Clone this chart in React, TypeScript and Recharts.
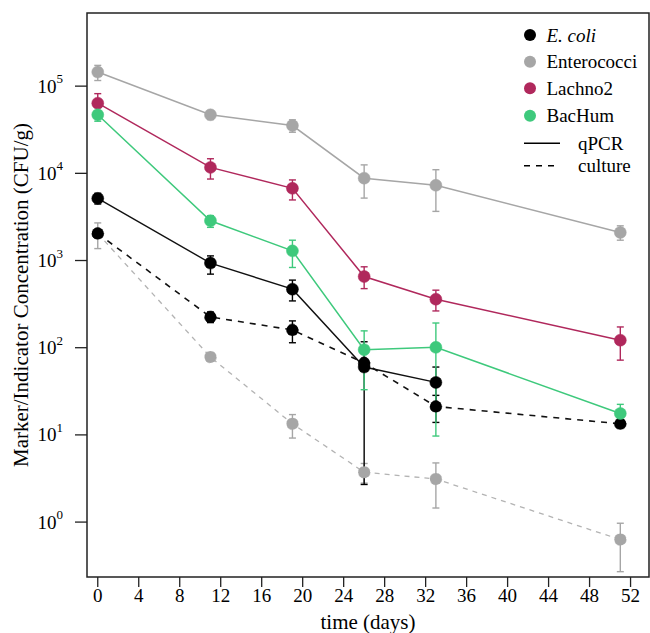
import React from "react";
import { ComposedChart, Line, XAxis, YAxis, ErrorBar, ReferenceArea, Legend } from "recharts";

const FONT = "'Liberation Serif', 'Times New Roman', serif";

const xTicks = [0, 4, 8, 12, 16, 20, 24, 28, 32, 36, 40, 44, 48, 52];
const yTicks = [1, 10, 100, 1000, 10000, 100000];

const daysAll = [0, 11, 19, 26, 33, 51];
const daysEcoliQ = [0, 11, 19, 26, 33];

const enteroQ = [145000, 46900, 35300, 8800, 7300, 2100];
const enteroQLow = [116000, 41400, 29600, 5200, 3660, 1710];
const enteroQHigh = [173000, 52500, 41100, 12500, 11000, 2500];

const lachno = [63800, 11700, 6730, 655, 360, 122];
const lachnoLow = [44900, 8600, 4950, 476, 264, 72];
const lachnoHigh = [82000, 14700, 8400, 847, 457, 173];

const bacHum = [46900, 2860, 1290, 95, 101, 17.6];
const bacHumLow = [39600, 2400, 832, 33, 9.7, 12.6];
const bacHumHigh = [56500, 3270, 1710, 156, 192, 22.4];

const ecoliQ = [5160, 934, 469, 60, 40];
const ecoliQLow = [4450, 698, 344, 2.7, 20];
const ecoliQHigh = [5900, 1130, 596, 117, 60];

const ecoliC = [2040, 225, 160, 67, 21.2, 13.4];
const ecoliCLow = [1950, 194, 114, 62, 13.9, 12.9];
const ecoliCHigh = [2130, 257, 203, 72, 28.4, 13.9];

const enteroC = [2040, 78, 13.4, 3.73, 3.12, 0.63];
const enteroCLow = [1370, 74, 9.2, 2.8, 1.45, 0.27];
const enteroCHigh = [2700, 83, 17.1, 4.7, 4.77, 0.97];

const build = (days: number[], v: number[], lo: number[], hi: number[]) =>
  days.map((d, i) => ({ day: d, v: v[i], err: [v[i] - lo[i], hi[i] - v[i]] }));

const C_BLACK = "#000000";
const C_GRAY = "#a6a6a6";
const C_GRAY_C = "#b3b3b3";
const C_LACHNO = "#b0285c";
const C_GREEN = "#3ec97c";

const YTick = (props: any) => {
  const { x, y, payload } = props;
  const exp = Math.round(Math.log10(payload.value));
  return (
    <text x={x} y={y} textAnchor="end" fontFamily={FONT} fontSize={19} fill="#000" dominantBaseline="central">
      10<tspan dy={-8} fontSize={13}>{exp}</tspan>
    </text>
  );
};

const LegendContent = () => {
  const rows = [
    { label: "E. coli", color: C_BLACK, italic: true, y: 35 },
    { label: "Enterococci", color: C_GRAY, italic: false, y: 61.7 },
    { label: "Lachno2", color: C_LACHNO, italic: false, y: 88.3 },
    { label: "BacHum", color: C_GREEN, italic: false, y: 115.7 },
  ];
  return (
    <svg width={650} height={633} style={{ position: "absolute", left: 0, top: 0 }}>
      {rows.map((r) => (
        <g key={r.label}>
          <circle cx={530} cy={r.y} r={6} fill={r.color} />
          <text x={546.5} y={r.y} dominantBaseline="central" fontFamily={FONT} fontSize={19} fontStyle={r.italic ? "italic" : "normal"} fill="#000">
            {r.label}
          </text>
        </g>
      ))}
      <line x1={524} x2={560} y1={143.3} y2={143.3} stroke="#000" strokeWidth={1.5} />
      <text x={578} y={143.3} dominantBaseline="central" fontFamily={FONT} fontSize={19} fill="#000">qPCR</text>
      <line x1={524} x2={556} y1={165.7} y2={165.7} stroke="#000" strokeWidth={1.5} strokeDasharray="6 6" />
      <text x={578} y={165.7} dominantBaseline="central" fontFamily={FONT} fontSize={19} fill="#000">culture</text>
    </svg>
  );
};

const X_DOMAIN: [number, number] = [-1.05, 53.8];
const Y_DOMAIN: [number, number] = [0.2345, 690000];

export default function App() {
  const dEnteroC = build(daysAll, enteroC, enteroCLow, enteroCHigh);
  const dEnteroQ = build(daysAll, enteroQ, enteroQLow, enteroQHigh);
  const dEcoliC = build(daysAll, ecoliC, ecoliCLow, ecoliCHigh);
  const dEcoliQ = build(daysEcoliQ, ecoliQ, ecoliQLow, ecoliQHigh);
  const dLachno = build(daysAll, lachno, lachnoLow, lachnoHigh);
  const dBac = build(daysAll, bacHum, bacHumLow, bacHumHigh);

  const series = [
    { key: "enteroC", data: dEnteroC, color: C_GRAY, line: C_GRAY_C, dash: "5 5", w: 1.3 },
    { key: "enteroQ", data: dEnteroQ, color: C_GRAY, line: C_GRAY, dash: undefined, w: 1.5 },
    { key: "ecoliC", data: dEcoliC, color: C_BLACK, line: "#111", dash: "6 6", w: 1.6 },
    { key: "ecoliQ", data: dEcoliQ, color: C_BLACK, line: "#111", dash: undefined, w: 1.4 },
    { key: "lachno", data: dLachno, color: C_LACHNO, line: C_LACHNO, dash: undefined, w: 1.5 },
    { key: "bac", data: dBac, color: C_GREEN, line: C_GREEN, dash: undefined, w: 1.5 },
  ];

  return (
    <div style={{ position: "absolute", left: 0, top: 0, width: 650, height: 633, background: "#fff" }}>
      <ComposedChart width={650} height={633} margin={{ top: 13, right: 1, bottom: 0, left: 0 }}>
        <XAxis
          dataKey="day"
          type="number"
          domain={X_DOMAIN}
          allowDataOverflow
          ticks={xTicks}
          interval={0}
          height={56}
          tickSize={10}
          tickMargin={2}
          axisLine={false}
          tickLine={{ stroke: "#222", strokeWidth: 1.3 }}
          tick={{ fill: "#000", fontSize: 19, fontFamily: FONT }}
        />
        <YAxis
          scale="log"
          domain={Y_DOMAIN}
          allowDataOverflow
          ticks={yTicks}
          interval={0}
          width={87}
          tickSize={12}
          tickMargin={12}
          axisLine={false}
          tickLine={{ stroke: "#222", strokeWidth: 1.3 }}
          tick={<YTick />}
        />
        <ReferenceArea
          x1={X_DOMAIN[0]}
          x2={X_DOMAIN[1]}
          y1={Y_DOMAIN[0]}
          y2={Y_DOMAIN[1]}
          fill="none"
          stroke="#222"
          strokeWidth={1.5}
          ifOverflow="visible"
        />
        {series.map((s) => (
          <Line
            key={s.key}
            data={s.data}
            dataKey="v"
            type="linear"
            stroke={s.line}
            strokeWidth={s.w}
            strokeDasharray={s.dash}
            dot={{ r: 6, fill: s.color, stroke: s.color, strokeWidth: 0.5 }}
            activeDot={false}
            isAnimationActive={false}
          >
            <ErrorBar dataKey="err" direction="y" width={3.5} stroke={s.color} strokeWidth={1.4} isAnimationActive={false} />
          </Line>
        ))}
        <Legend layout="horizontal" verticalAlign="middle" align="center" content={<LegendContent />} wrapperStyle={{ position: "absolute", left: 0, top: 0, width: 650, height: 633, pointerEvents: "none" }} />
      </ComposedChart>
      <svg width={650} height={633} style={{ position: "absolute", left: 0, top: 0, pointerEvents: "none" }}>
        <text x={20.5} y={295} transform="rotate(-90 20.5 295)" textAnchor="middle" dominantBaseline="central" fontFamily={FONT} fontSize={21} fill="#000">
          Marker/Indicator Concentration (CFU/g)
        </text>
        <text x={368} y={629} textAnchor="middle" fontFamily={FONT} fontSize={21} fill="#000">
          time (days)
        </text>
      </svg>
    </div>
  );
}
